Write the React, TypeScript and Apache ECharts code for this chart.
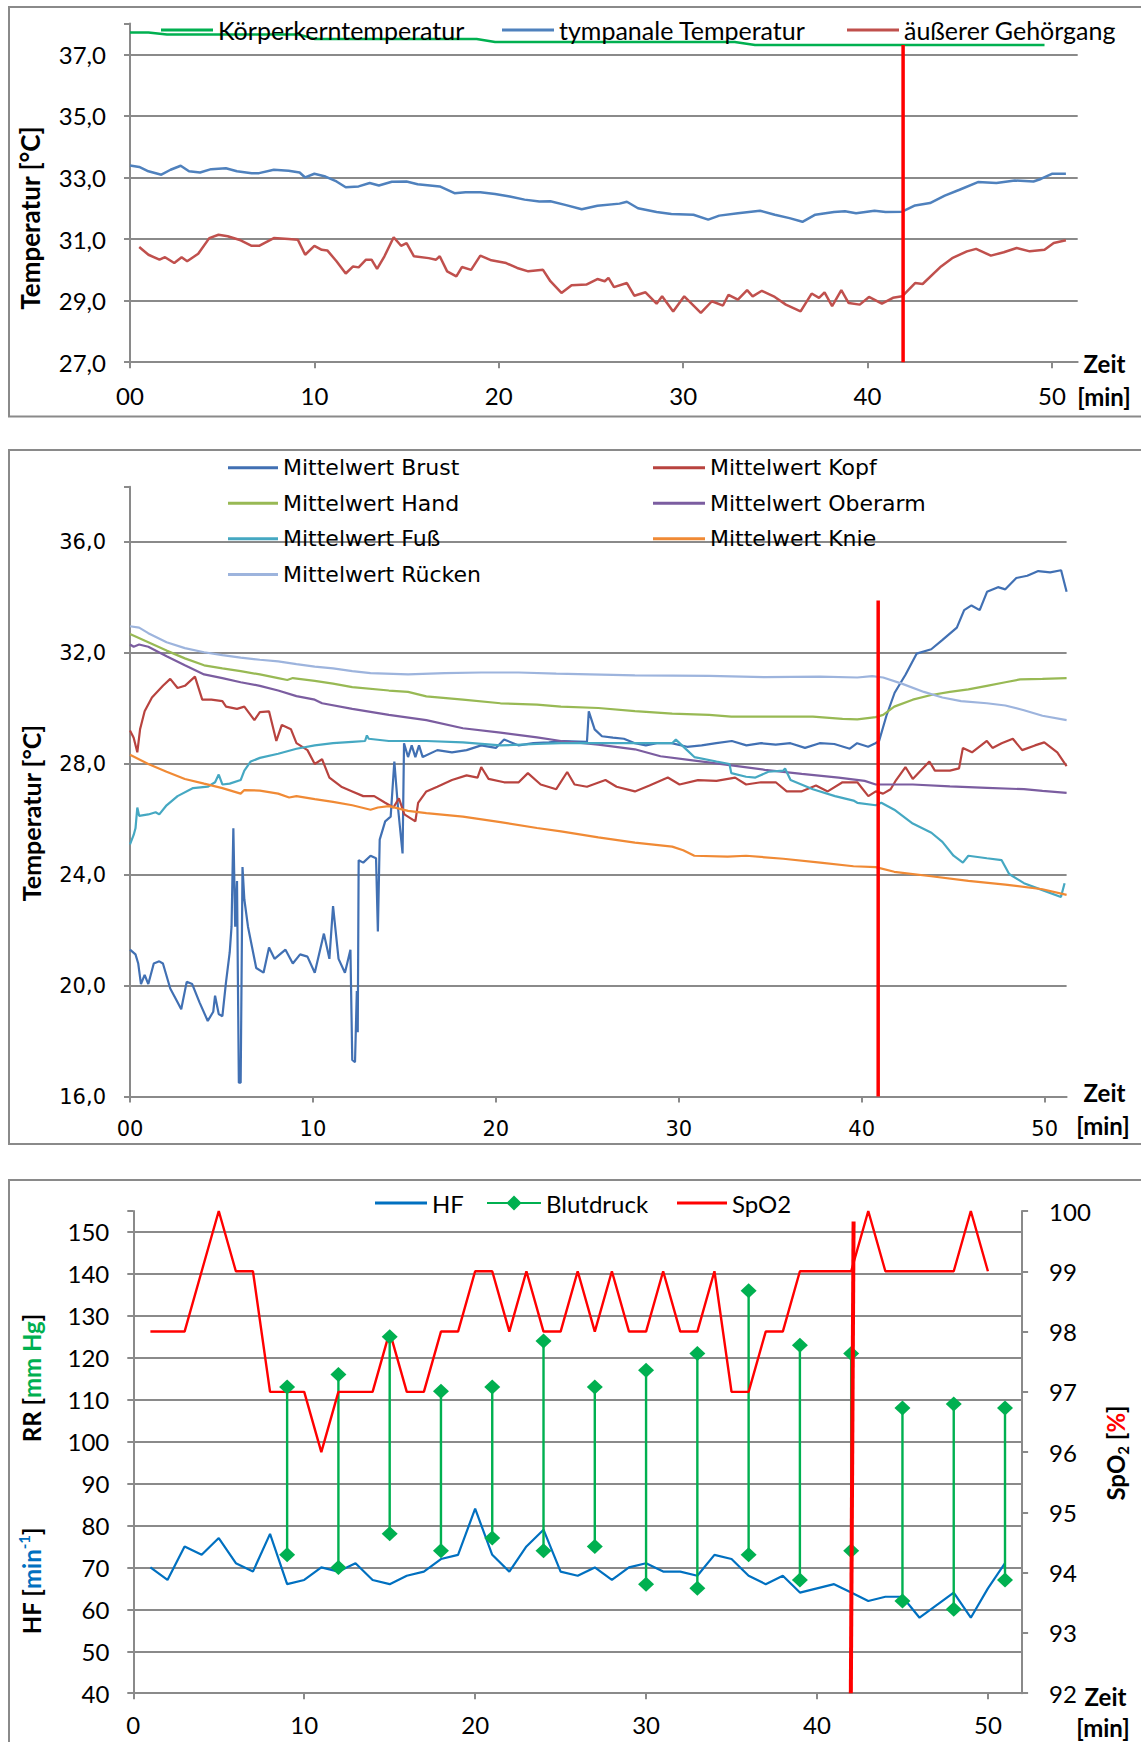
import React, { useEffect, useRef } from 'react';
import * as echarts from 'echarts';

const W = 1141;
const H = 1742;

// ---------- Panel 1: core / tympanic / ear canal temperature ----------
const coreTemp: [number, number][] = [[0,37.71],[1.0,37.71],[2.0,37.64],[9.2,37.64],[10.0,37.5],[18.8,37.5],[19.8,37.4],[32.8,37.4],[33.9,37.3],[49.6,37.3]];
const tympanicTemp: [number, number][] = [[0,33.39],[0.5,33.34],[1.0,33.2],[1.7,33.09],[2.2,33.25],[2.75,33.38],[3.2,33.2],[3.8,33.16],[4.4,33.27],[5.2,33.3],[5.8,33.2],[6.6,33.14],[7.0,33.14],[7.8,33.25],[8.6,33.22],[9.2,33.16],[9.5,33.0],[10.0,33.12],[10.6,33.03],[11.2,32.87],[11.7,32.68],[12.4,32.71],[13.0,32.82],[13.5,32.74],[14.2,32.86],[15.0,32.87],[15.6,32.78],[16.8,32.71],[17.6,32.49],[18.2,32.52],[19.0,32.52],[19.8,32.46],[20.6,32.38],[21.4,32.28],[22.2,32.22],[22.8,32.23],[23.6,32.11],[24.5,31.97],[25.35,32.08],[26.55,32.15],[26.95,32.21],[27.55,32.0],[28.56,31.88],[29.36,31.81],[30.56,31.79],[31.36,31.63],[31.96,31.76],[32.97,31.84],[34.17,31.92],[34.97,31.79],[35.77,31.68],[36.47,31.56],[37.17,31.79],[38.18,31.88],[38.78,31.9],[39.38,31.84],[40.38,31.92],[40.98,31.88],[41.88,31.89],[42.58,32.09],[43.39,32.17],[44.19,32.41],[44.99,32.6],[45.99,32.85],[46.99,32.82],[47.99,32.9],[49.0,32.87],[49.4,32.95],[50.0,33.12],[50.76,33.12]];
const earCanalTemp: [number, number][] = [[0.5,30.74],[1.0,30.49],[1.6,30.33],[1.9,30.41],[2.4,30.22],[2.8,30.41],[3.1,30.28],[3.7,30.52],[4.3,31.03],[4.8,31.14],[5.3,31.09],[6.0,30.96],[6.6,30.78],[7.0,30.78],[7.8,31.03],[8.6,31.0],[9.1,30.98],[9.5,30.49],[10.0,30.78],[10.4,30.65],[10.7,30.63],[11.2,30.28],[11.7,29.88],[12.1,30.11],[12.4,30.08],[12.8,30.33],[13.1,30.33],[13.4,30.03],[13.8,30.44],[14.3,31.06],[14.7,30.78],[15.0,30.87],[15.4,30.44],[16.2,30.38],[16.6,30.33],[16.8,30.44],[17.2,29.95],[17.7,29.79],[18.0,30.09],[18.5,30.0],[19.0,30.46],[19.6,30.31],[20.4,30.22],[21.0,30.06],[21.6,29.95],[22.4,30.0],[22.8,29.63],[23.4,29.25],[23.95,29.5],[24.75,29.52],[25.35,29.7],[25.75,29.63],[25.95,29.74],[26.25,29.44],[26.95,29.57],[27.35,29.16],[27.96,29.27],[28.56,28.9],[28.86,29.14],[29.46,28.65],[30.06,29.14],[30.96,28.6],[31.56,28.98],[32.16,28.84],[32.46,29.19],[32.97,29.03],[33.47,29.34],[33.77,29.14],[34.27,29.32],[34.97,29.12],[35.57,28.87],[36.37,28.65],[36.97,29.23],[37.37,29.09],[37.67,29.27],[38.08,28.82],[38.58,29.34],[38.98,28.92],[39.58,28.87],[40.08,29.12],[40.78,28.9],[41.38,29.09],[41.88,29.14],[42.58,29.57],[42.99,29.54],[43.99,30.11],[44.59,30.38],[45.39,30.6],[45.89,30.68],[46.69,30.46],[47.39,30.57],[48.09,30.71],[48.8,30.6],[49.6,30.65],[50.1,30.87],[50.76,30.96]];
const markerTop: [number, number][] = [[41.93,27],[41.93,37.3]];

// ---------- Panel 2: mean skin temperatures ----------
const brust: [number, number][] = [[0,21.3],[0.3,21.13],[0.45,20.8],[0.6,20.06],[0.8,20.39],[1.0,20.06],[1.3,20.8],[1.6,20.88],[1.8,20.8],[2.2,19.9],[2.6,19.4],[2.8,19.15],[3.1,20.14],[3.4,20.06],[3.8,19.4],[4.25,18.73],[4.55,19.06],[4.65,19.64],[4.85,18.98],[5.05,18.9],[5.25,20.14],[5.45,21.2],[5.55,22.13],[5.65,25.68],[5.75,22.13],[5.85,23.78],[5.95,16.5],[6.05,16.5],[6.15,24.28],[6.25,23.12],[6.45,22.13],[6.9,20.64],[7.3,20.47],[7.6,21.38],[7.9,20.97],[8.5,21.3],[8.9,20.8],[9.3,21.13],[9.7,21.05],[10.1,20.47],[10.6,21.88],[10.9,20.97],[11.1,22.87],[11.4,20.97],[11.75,20.47],[12.05,21.3],[12.15,17.32],[12.3,17.24],[12.4,19.81],[12.45,18.32],[12.5,24.53],[12.75,24.44],[13.15,24.69],[13.45,24.6],[13.55,21.96],[13.65,25.27],[13.95,25.93],[14.25,26.1],[14.45,28.09],[14.65,26.43],[14.9,24.77],[14.98,28.75],[15.2,28.25],[15.4,28.67],[15.6,28.25],[15.8,28.67],[16.0,28.25],[16.8,28.5],[17.6,28.42],[18.4,28.5],[19.2,28.67],[20.0,28.58],[20.45,28.88],[21.25,28.67],[22.05,28.75],[22.9,28.78],[23.7,28.83],[24.98,28.8],[25.08,29.9],[25.4,29.25],[25.8,29.0],[26.4,28.95],[27.0,28.91],[27.6,28.75],[28.2,28.67],[28.8,28.75],[29.6,28.75],[30.45,28.62],[31.25,28.67],[32.05,28.75],[32.9,28.83],[33.7,28.67],[34.5,28.75],[35.3,28.7],[36.1,28.75],[36.9,28.58],[37.7,28.75],[38.5,28.72],[39.35,28.55],[39.75,28.75],[40.35,28.62],[40.75,28.75],[40.95,28.83],[41.35,29.74],[41.8,30.57],[42.4,31.23],[43.0,31.98],[43.8,32.14],[44.4,32.47],[45.2,32.92],[45.6,33.55],[46.0,33.72],[46.45,33.55],[46.85,34.21],[47.45,34.38],[47.85,34.3],[48.45,34.71],[49.05,34.79],[49.65,34.96],[50.3,34.91],[50.9,34.99],[51.2,34.21]];
const kopf: [number, number][] = [[0,29.21],[0.2,28.95],[0.4,28.42],[0.55,29.25],[0.8,29.9],[1.2,30.4],[1.8,30.82],[2.2,31.07],[2.6,30.74],[3.0,30.82],[3.55,31.15],[3.95,30.32],[4.45,30.32],[5.05,30.27],[5.25,30.07],[5.85,29.99],[6.25,30.07],[6.8,29.58],[7.1,29.87],[7.6,29.9],[8.0,28.83],[8.3,29.41],[8.8,29.25],[9.1,28.75],[9.7,28.5],[10.1,28.0],[10.5,28.17],[10.9,27.51],[11.55,27.18],[12.15,27.01],[12.75,26.84],[13.35,26.84],[13.95,26.6],[14.4,26.43],[14.7,26.76],[15.0,26.18],[15.6,25.93],[15.75,26.6],[16.2,27.01],[16.8,27.18],[17.6,27.42],[18.4,27.59],[19.0,27.51],[19.2,27.89],[19.6,27.46],[20.45,27.34],[21.25,27.34],[21.75,27.67],[22.45,27.26],[23.3,27.09],[23.9,27.71],[24.3,27.26],[24.98,27.18],[25.99,27.42],[26.6,27.18],[27.6,27.01],[28.4,27.22],[29.4,27.51],[30.04,27.26],[31.05,27.42],[32.06,27.39],[33.08,27.51],[33.68,27.26],[34.49,27.34],[35.3,27.34],[35.9,27.01],[36.7,27.01],[37.5,27.22],[38.14,27.01],[38.95,27.34],[39.76,27.34],[40.36,26.84],[40.77,27.01],[41.17,26.93],[41.58,27.09],[41.88,27.42],[42.39,27.89],[42.79,27.46],[43.7,28.09],[44.0,27.76],[44.82,27.76],[45.32,27.84],[45.53,28.58],[46.03,28.42],[46.84,28.83],[47.15,28.58],[47.65,28.75],[48.26,28.91],[48.77,28.5],[49.47,28.67],[49.98,28.78],[50.69,28.42],[51.2,27.92]];
const hand: [number, number][] = [[0,32.69],[1.0,32.39],[2.0,32.09],[3.0,31.81],[4.05,31.56],[5.05,31.45],[6.05,31.35],[7.1,31.23],[8.1,31.1],[8.6,31.03],[8.9,31.1],[10.1,31.0],[11.1,30.9],[12.15,30.77],[14.15,30.65],[15.2,30.6],[16.2,30.44],[18.2,30.32],[20.25,30.19],[22.25,30.14],[23.56,30.07],[25.6,30.02],[27.6,29.91],[29.64,29.82],[31.66,29.77],[32.87,29.71],[34.9,29.71],[37.33,29.71],[38.95,29.63],[39.76,29.61],[40.77,29.69],[41.17,29.77],[41.78,30.07],[42.79,30.32],[43.8,30.49],[44.82,30.6],[45.83,30.69],[46.84,30.82],[47.85,30.95],[48.66,31.05],[49.88,31.07],[51.2,31.1]];
const oberarm: [number, number][] = [[0,32.31],[0.2,32.23],[0.5,32.31],[1.0,32.23],[2.0,31.89],[3.0,31.56],[4.05,31.23],[5.05,31.1],[6.05,30.95],[7.1,30.82],[8.1,30.65],[9.1,30.45],[10.1,30.32],[10.5,30.19],[12.15,29.99],[14.15,29.77],[16.2,29.58],[18.2,29.29],[20.25,29.13],[22.25,28.96],[23.56,28.83],[25.6,28.7],[27.6,28.53],[29.0,28.28],[30.65,28.14],[32.67,27.97],[34.7,27.79],[36.72,27.64],[38.74,27.51],[40.16,27.39],[40.77,27.26],[42.79,27.26],[44.82,27.19],[46.84,27.14],[48.87,27.09],[49.88,27.03],[51.2,26.96]];
const fuss: [number, number][] = [[0,25.1],[0.2,25.44],[0.3,25.68],[0.4,26.43],[0.5,26.13],[1.0,26.18],[1.4,26.26],[1.6,26.18],[2.0,26.51],[2.6,26.84],[3.45,27.13],[4.25,27.18],[4.65,27.34],[4.85,27.62],[5.05,27.26],[5.45,27.29],[6.05,27.42],[6.25,27.76],[6.6,28.09],[7.1,28.22],[8.1,28.37],[9.1,28.55],[10.1,28.67],[11.1,28.75],[12.15,28.8],[12.85,28.83],[12.95,29.03],[13.05,28.91],[14.15,28.83],[16.2,28.83],[18.2,28.78],[20.25,28.67],[22.25,28.72],[23.56,28.75],[25.6,28.75],[27.6,28.75],[29.64,28.75],[29.84,28.88],[30.45,28.5],[30.85,28.25],[32.06,28.09],[32.77,28.0],[32.87,27.67],[33.68,27.54],[34.19,27.51],[34.9,27.72],[35.71,27.76],[35.81,27.84],[36.11,27.42],[37.33,27.09],[38.54,26.84],[39.55,26.68],[39.76,26.6],[40.77,26.51],[41.07,26.6],[41.78,26.35],[42.79,25.85],[43.81,25.52],[44.41,25.19],[45.02,24.69],[45.53,24.44],[45.83,24.69],[46.84,24.6],[47.65,24.53],[48.06,24.03],[48.87,23.7],[49.88,23.45],[50.89,23.2],[51.09,23.7]];
const knie: [number, number][] = [[0,28.33],[1.0,28.0],[2.0,27.72],[3.0,27.46],[4.05,27.29],[5.05,27.13],[6.05,26.93],[6.25,27.06],[7.1,27.04],[8.1,26.93],[8.7,26.79],[9.1,26.84],[10.1,26.73],[11.1,26.63],[12.15,26.51],[13.15,26.35],[13.55,26.43],[14.15,26.48],[15.2,26.31],[16.2,26.23],[18.2,26.1],[20.25,25.9],[22.25,25.69],[23.56,25.57],[25.6,25.35],[27.6,25.16],[29.64,25.02],[30.24,24.89],[30.85,24.69],[32.67,24.66],[33.68,24.69],[35.71,24.58],[37.73,24.44],[39.55,24.31],[40.77,24.28],[41.78,24.11],[43.8,23.95],[45.83,23.78],[47.85,23.65],[49.88,23.48],[51.2,23.28]];
const ruecken: [number, number][] = [[0,32.97],[0.5,32.92],[1.0,32.72],[2.0,32.39],[3.0,32.18],[4.05,32.03],[5.05,31.93],[6.05,31.84],[7.1,31.76],[8.1,31.7],[9.1,31.6],[10.1,31.51],[11.1,31.45],[12.15,31.35],[13.15,31.28],[15.2,31.23],[17.2,31.28],[19.2,31.3],[21.25,31.3],[23.3,31.26],[27.6,31.2],[31.66,31.18],[34.7,31.13],[37.73,31.15],[39.76,31.12],[40.57,31.17],[41.17,31.12],[42.19,30.9],[43.4,30.6],[44.41,30.4],[45.43,30.27],[46.84,30.19],[47.85,30.11],[48.87,29.94],[49.88,29.74],[51.2,29.58]];
const markerMid: [number, number][] = [[40.9,16],[40.9,33.9]];

// ---------- Panel 3: heart rate, blood pressure, SpO2 ----------
const hfValues = [70,67,75,73,77,71,69,78,66,67,70,69,71,67,66,68,69,72,73,84,73,69,75,79,69,68,70,67,70,71,69,69,68,73,72,68,66,68,64,65,66,64,62,63,63,58,61,64,58,65,71];
const spo2Values = [98,98,98,99,100,99,99,97,97,97,96,97,97,97,98,97,97,98,98,99,99,98,99,98,98,99,98,99,98,98,99,98,98,99,97,97,98,98,99,99,99,99,100,99,99,99,99,99,100,99];
const bpTimes = [9,12,15,18,21,24,27,30,33,36,39,42,45,48,51];
const bpSystolic = [113,116,125,112,113,124,113,117,121,136,123,121,108,109,108];
const bpDiastolic = [73,70,78,74,77,74,75,66,65,73,67,74,62,60,67];
const markerBottom: [number, number][] = [[41.98,40],[42.14,152.5]];

// ---------- styling ----------
const FC = 'Lato, "Noto Sans", sans-serif';
const FV = '"DejaVu Sans", Verdana, sans-serif';
const GRAY = '#8a8a8a';

const hfData = hfValues.map((v, i) => [i + 1, v]);
const spo2Data = spo2Values.map((v, i) => [i + 1, v]);
const bpData: any[] = [];
bpTimes.forEach((t, i) => {
  bpData.push([t, bpSystolic[i]]);
  bpData.push([t, bpDiastolic[i]]);
  bpData.push([t + 1, '-']);
});

const comma = (v: number) => v.toFixed(1).replace('.', ',');

function xAxis(gridIndex: number, max: number, font: string, size: number, margin: number, zeroLabel: string) {
  return {
    type: 'value', gridIndex, min: 0, max, interval: 10,
    axisLine: { show: true, lineStyle: { color: GRAY, width: 2 } },
    axisTick: { show: true, length: 6, inside: false, lineStyle: { color: GRAY, width: 2 } },
    splitLine: { show: false },
    axisLabel: {
      show: true, margin, color: '#000', fontFamily: font, fontSize: size, showMaxLabel: false,
      formatter: (v: number) => (Math.abs(v % 10) < 1e-6 ? (v === 0 ? zeroLabel : String(v)) : ''),
    },
  };
}

function yAxis(gridIndex: number, min: number, max: number, interval: number, font: string, size: number, fmt: (v: number) => string, lastTick: number, position = 'left', grid = true, margin = 24) {
  return {
    type: 'value', gridIndex, min, max, interval, position,
    axisLine: { show: true, lineStyle: { color: GRAY, width: 2 } },
    axisTick: { show: true, length: 6, inside: false, lineStyle: { color: GRAY, width: 2 } },
    splitLine: { show: grid, showMaxLine: false, lineStyle: { color: GRAY, width: 2 } },
    axisLabel: {
      show: true, margin, color: '#000', fontFamily: font, fontSize: size,
      formatter: (v: number) => (v > lastTick + 1e-6 ? '' : fmt(v)),
    },
  };
}

function line(name: string, data: any[], color: string, width: number, xi: number, yi: number, z = 2) {
  return {
    type: 'line', name, data, xAxisIndex: xi, yAxisIndex: yi,
    symbol: 'none', showSymbol: false, silent: true, z,
    lineStyle: { color, width }, itemStyle: { color },
  };
}

function legend(name: string, left: number, centerY: number, itemWidth: number, font: string, size: number, lh: number, withMarker = false) {
  const base: any = {
    data: [name], left, top: centerY - lh / 2, padding: 0, itemWidth,
    selectedMode: false,
    textStyle: { fontFamily: font, fontSize: size, color: '#000', lineHeight: lh },
  };
  if (withMarker) {
    base.itemHeight = 19;
  } else {
    base.icon = 'rect';
    base.itemHeight = 3;
  }
  return base;
}

function txt(x: number, y: number, text: string, size: number, rotate = false, rich?: any) {
  const el: any = {
    type: 'text', x, y, rotation: rotate ? Math.PI / 2 : 0, silent: true,
    style: {
      text, fontFamily: FC, fontSize: size, fontWeight: 'bold', fill: '#000',
      textAlign: 'center', textVerticalAlign: 'middle', align: 'center', verticalAlign: 'middle',
    },
  };
  if (rich) el.style.rich = rich;
  return el;
}

function frame(y: number, h: number) {
  return { type: 'rect', silent: true, z: -10, shape: { x: 9, y, width: 1150, height: h }, style: { fill: 'none', stroke: GRAY, lineWidth: 2 } };
}

const richBase = (c: string) => ({ fontFamily: FC, fontSize: 24, fontWeight: 'bold', fill: c, lineHeight: 30, verticalAlign: 'middle' });

const option: any = {
  animation: false,
  backgroundColor: '#fff',
  grid: [
    { left: 130, top: 23.5, width: 947.7, height: 338.7, outerBoundsMode: 'none', containLabel: false },
    { left: 130, top: 486.8, width: 936.6, height: 609.8, outerBoundsMode: 'none', containLabel: false },
    { left: 133.3, top: 1211, width: 888.8, height: 482.2, outerBoundsMode: 'none', containLabel: false },
  ],
  xAxis: [
    xAxis(0, 51.4, FC, 24, 21, '00'),
    xAxis(1, 51.2, FV, 21, 22, '00'),
    xAxis(2, 52, FC, 24, 19, '0'),
  ],
  yAxis: [
    yAxis(0, 27, 38, 2, FC, 24, comma, 37),
    yAxis(1, 16, 38, 4, FV, 21, comma, 36),
    yAxis(2, 40, 155, 10, FC, 24, (v) => String(v), 150),
    yAxis(2, 92, 100, 1, FC, 24, (v) => String(v), 100, 'right', false, 27),
  ],
  legend: [
    legend('Körperkerntemperatur', 161, 30, 52, FC, 25, 30),
    legend('tympanale Temperatur', 502, 30, 52, FC, 25, 30),
    legend('äußerer Gehörgang', 847, 30, 52, FC, 25, 30),
    legend('Mittelwert Brust', 228, 467.7, 50, FV, 22, 26),
    legend('Mittelwert Hand', 228, 503.3, 50, FV, 22, 26),
    legend('Mittelwert Fuß', 228, 538.8, 50, FV, 22, 26),
    legend('Mittelwert Rücken', 228, 574.4, 50, FV, 22, 26),
    legend('Mittelwert Kopf', 653, 467.7, 52, FV, 22, 26),
    legend('Mittelwert Oberarm', 653, 503.3, 52, FV, 22, 26),
    legend('Mittelwert Knie', 653, 538.8, 52, FV, 22, 26),
    legend('HF', 375, 1203, 52, FC, 24, 28),
    legend('Blutdruck', 486, 1203, 54, FC, 24, 28, true),
    legend('SpO2', 677, 1203, 50, FC, 24, 28),
  ],
  series: [
    line('Körperkerntemperatur', coreTemp, '#00B050', 2.5, 0, 0),
    line('tympanale Temperatur', tympanicTemp, '#4F81BD', 2.5, 0, 0),
    line('äußerer Gehörgang', earCanalTemp, '#C0504D', 2.5, 0, 0),
    line('Markierung oben', markerTop, '#FF0000', 3.5, 0, 0, 5),

    line('Mittelwert Brust', brust, '#4170B3', 2.2, 1, 1),
    line('Mittelwert Kopf', kopf, '#B8433F', 2.2, 1, 1),
    line('Mittelwert Hand', hand, '#98B954', 2.2, 1, 1),
    line('Mittelwert Oberarm', oberarm, '#7B5DA0', 2.2, 1, 1),
    line('Mittelwert Fuß', fuss, '#45A8C2', 2.2, 1, 1),
    line('Mittelwert Knie', knie, '#F08A35', 2.2, 1, 1),
    line('Mittelwert Rücken', ruecken, '#9DB4DD', 2.2, 1, 1),
    line('Markierung Mitte', markerMid, '#FF0000', 3.5, 1, 1, 5),

    line('HF', hfData, '#0070C0', 2.2, 2, 2),
    {
      type: 'line', name: 'Blutdruck', data: bpData, xAxisIndex: 2, yAxisIndex: 2,
      symbol: 'diamond', symbolSize: [16, 15], showSymbol: true, showAllSymbol: true, connectNulls: false, silent: true, z: 2,
      lineStyle: { color: '#00B050', width: 2.4 }, itemStyle: { color: '#00B050' },
    },
    line('SpO2', spo2Data, '#FF0000', 2.4, 2, 3),
    line('Markierung unten', markerBottom, '#FF0000', 4, 2, 2, 5),
  ],
  graphic: [
    frame(7, 409.6),
    frame(450, 694),
    frame(1180, 580),
    txt(30, 218, 'Temperatur [°C]', 26, true),
    txt(31, 813, 'Temperatur [°C]', 25, true),
    txt(1104.5, 363, 'Zeit', 24),
    txt(1104, 396.6, '[min]', 24),
    txt(1104.5, 1092, 'Zeit', 24),
    txt(1103, 1125.5, '[min]', 24),
    txt(1105.5, 1696.5, 'Zeit', 24),
    txt(1103, 1727, '[min]', 24),
    txt(31, 1378, '{b|RR [}{g|mm Hg}{b|]}', 24, true, { b: richBase('#000'), g: richBase('#00B050') }),
    txt(31, 1581, '{b|HF [}{u|min}{s|-1}{b|]}', 24, true, {
      b: richBase('#000'), u: richBase('#0070C0'),
      s: { fontFamily: FC, fontSize: 15, fontWeight: 'bold', fill: '#0070C0', lineHeight: 15, verticalAlign: 'top' },
    }),
    txt(1115, 1453, '{b|SpO}{s|2}{b| [}{r|%}{b|]}', 24, true, {
      b: richBase('#000'), r: richBase('#FF0000'),
      s: { fontFamily: FC, fontSize: 15, fontWeight: 'bold', fill: '#000', lineHeight: 15, verticalAlign: 'bottom' },
    }),
  ],
};

export default function App() {
  const ref = useRef<HTMLDivElement>(null);
  useEffect(() => {
    document.body.style.margin = '0';
    const chart = echarts.init(ref.current as HTMLDivElement, null, { renderer: 'svg', width: W, height: H });
    chart.setOption(option);
    return () => chart.dispose();
  }, []);
  return <div ref={ref} style={{ position: 'absolute', left: 0, top: 0, width: W, height: H, background: '#fff' }} />;
}
